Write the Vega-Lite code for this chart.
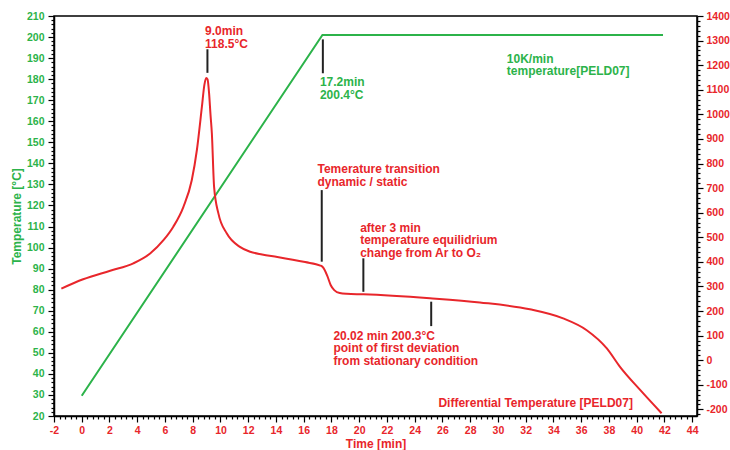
{
  "$schema": "https://vega.github.io/schema/vega-lite/v6.json",
  "width": 643,
  "height": 400,
  "autosize": "none",
  "padding": {"left": 54, "top": 16, "right": 33, "bottom": 34},
  "background": "white",
  "config": {
    "view": {"stroke": "black", "strokeWidth": 1.5},
    "font": "Liberation Sans",
    "axis": {
      "labelFont": "Liberation Sans",
      "labelFontWeight": "bold",
      "labelFontSize": 10.5,
      "titleFont": "Liberation Sans",
      "titleFontWeight": "bold",
      "titleFontSize": 12,
      "domainColor": "black",
      "domainWidth": 1.5,
      "tickColor": "black",
      "tickWidth": 1.2,
      "grid": false,
      "labelOverlap": false,
      "labelBound": false,
      "labelFlush": false
    }
  },
  "datasets": {
    "green": [
      {"t": 0, "v": 29.6},
      {"t": 17.35, "v": 201.0},
      {"t": 41.9, "v": 201.0}
    ],
    "red": [
      {"t": -1.47, "v": 291},
      {"t": 0.1, "v": 329},
      {"t": 2.05, "v": 364},
      {"t": 3.72, "v": 394},
      {"t": 4.93, "v": 434},
      {"t": 5.89, "v": 488},
      {"t": 6.6, "v": 543},
      {"t": 7.33, "v": 624},
      {"t": 7.93, "v": 732},
      {"t": 8.3, "v": 855},
      {"t": 8.66, "v": 1030},
      {"t": 8.84, "v": 1120},
      {"t": 8.97, "v": 1148},
      {"t": 9.07, "v": 1142},
      {"t": 9.18, "v": 1085},
      {"t": 9.28, "v": 1000},
      {"t": 9.38, "v": 922},
      {"t": 9.54, "v": 705},
      {"t": 9.85, "v": 597},
      {"t": 10.46, "v": 515},
      {"t": 11.4, "v": 461},
      {"t": 12.14, "v": 441},
      {"t": 13.0, "v": 430},
      {"t": 14.1, "v": 420},
      {"t": 16.1, "v": 399},
      {"t": 17.2, "v": 385},
      {"t": 17.35, "v": 380},
      {"t": 17.5, "v": 368},
      {"t": 17.7, "v": 343},
      {"t": 17.95, "v": 305},
      {"t": 18.2, "v": 285},
      {"t": 18.6, "v": 273},
      {"t": 19.1, "v": 270},
      {"t": 20.3, "v": 268},
      {"t": 25.1, "v": 252},
      {"t": 28.7, "v": 235},
      {"t": 32.3, "v": 207},
      {"t": 34.7, "v": 170},
      {"t": 36.4, "v": 122},
      {"t": 37.85, "v": 48},
      {"t": 38.8, "v": -27},
      {"t": 40.25, "v": -121},
      {"t": 41.8, "v": -216}
    ],
    "rules": [
      {"t": 9.06, "y1": 194.2, "y2": 183.0},
      {"t": 17.38, "y1": 198.9, "y2": 182.8},
      {"t": 17.3, "y1": 127.3, "y2": 93.3},
      {"t": 20.3, "y1": 94.9, "y2": 79.0},
      {"t": 25.19, "y1": 74.3, "y2": 62.7}
    ],
    "notes": [
      {"t": 8.89, "v": 205.1, "series": "differential", "label": "9.0min\n118.5°C"},
      {"t": 17.17, "v": 180.9, "series": "temperature", "label": "17.2min\n200.4°C"},
      {"t": 30.64, "v": 192.0, "series": "temperature", "label": "10K/min\ntemperature[PELD07]"},
      {"t": 16.99, "v": 139.7, "series": "differential", "label": "Temerature transition\ndynamic / static"},
      {"t": 20.07, "v": 111.7, "series": "differential", "label": "after 3 min\ntemperature equilidrium\nchange from Ar to O₂"},
      {"t": 18.14, "v": 60.5, "series": "differential", "label": "20.02 min 200.3°C\npoint of first deviation\nfrom stationary condition"},
      {"t": 25.71, "v": 28.4, "series": "differential", "label": "Differential Temperature [PELD07]"}
    ]
  },
  "layer": [
    {
      "layer": [
        {
          "data": {"name": "green"},
          "mark": {"type": "line", "color": "#2cb34a", "strokeWidth": 2},
          "encoding": {
            "x": {
              "field": "t",
              "type": "quantitative",
              "scale": {"domain": [-2, 44.35], "nice": false, "zero": false},
              "axis": {
                "title": "Time [min]",
                "titleColor": "#e8262b",
                "labelColor": "#e8262b",
                "titlePadding": 3,
                "labelPadding": 3,
                "tickCount": 500,
                "values": [-2,-1.6,-1.2,-0.8,-0.4,0,0.4,0.8,1.2,1.6,2,2.4,2.8,3.2,3.6,4,4.4,4.8,5.2,5.6,6,6.4,6.8,7.2,7.6,8,8.4,8.8,9.2,9.6,10,10.4,10.8,11.2,11.6,12,12.4,12.8,13.2,13.6,14,14.4,14.8,15.2,15.6,16,16.4,16.8,17.2,17.6,18,18.4,18.8,19.2,19.6,20,20.4,20.8,21.2,21.6,22,22.4,22.8,23.2,23.6,24,24.4,24.8,25.2,25.6,26,26.4,26.8,27.2,27.6,28,28.4,28.8,29.2,29.6,30,30.4,30.8,31.2,31.6,32,32.4,32.8,33.2,33.6,34,34.4,34.8,35.2,35.6,36,36.4,36.8,37.2,37.6,38,38.4,38.8,39.2,39.6,40,40.4,40.8,41.2,41.6,42,42.4,42.8,43.2,43.6,44],
                "labelExpr": "abs(datum.value/2 - round(datum.value/2)) < 0.001 ? ('' + round(datum.value)) : ''",
                "tickSize": {"condition": {"test": "abs(datum.value/2 - round(datum.value/2)) < 0.001", "value": 6}, "value": 3}
              }
            },
            "y": {
              "field": "v",
              "type": "quantitative",
              "scale": {"domain": [20, 210], "nice": false, "zero": false},
              "axis": {
                "orient": "left",
                "title": "Temperature [°C]",
                "titleColor": "#2cb34a",
                "labelColor": "#2cb34a",
                "titlePadding": 3,
                "labelPadding": 4,
                "tickCount": 500,
                "values": [20,22,24,26,28,30,32,34,36,38,40,42,44,46,48,50,52,54,56,58,60,62,64,66,68,70,72,74,76,78,80,82,84,86,88,90,92,94,96,98,100,102,104,106,108,110,112,114,116,118,120,122,124,126,128,130,132,134,136,138,140,142,144,146,148,150,152,154,156,158,160,162,164,166,168,170,172,174,176,178,180,182,184,186,188,190,192,194,196,198,200,202,204,206,208,210],
                "labelExpr": "datum.value % 10 === 0 ? ('' + round(datum.value)) : ''",
                "tickSize": {"condition": {"test": "datum.value % 10 === 0", "value": 6}, "value": 3}
              }
            }
          }
        },
        {
          "data": {"name": "rules"},
          "mark": {"type": "rule", "color": "#222222", "strokeWidth": 2},
          "encoding": {
            "x": {"field": "t", "type": "quantitative", "scale": {"domain": [-2, 44.35], "nice": false, "zero": false}},
            "y": {"field": "y1", "type": "quantitative", "scale": {"domain": [20, 210], "nice": false, "zero": false}},
            "y2": {"field": "y2"}
          }
        },
        {
          "data": {"name": "notes"},
          "mark": {"type": "text", "align": "left", "baseline": "top", "fontSize": 12, "fontWeight": "bold", "font": "Liberation Sans", "lineBreak": "\n", "lineHeight": 12.5},
          "encoding": {
            "x": {"field": "t", "type": "quantitative", "scale": {"domain": [-2, 44.35], "nice": false, "zero": false}},
            "y": {"field": "v", "type": "quantitative", "scale": {"domain": [20, 210], "nice": false, "zero": false}},
            "text": {"field": "label"},
            "color": {"field": "series", "type": "nominal", "scale": {"domain": ["temperature", "differential"], "range": ["#2cb34a", "#e8262b"]}, "legend": null}
          }
        }
      ]
    },
    {
      "data": {"name": "red"},
      "mark": {"type": "line", "color": "#e8262b", "strokeWidth": 2, "interpolate": "monotone"},
      "encoding": {
        "x": {"field": "t", "type": "quantitative", "scale": {"domain": [-2, 44.35], "nice": false, "zero": false}},
        "y": {
          "field": "v",
          "type": "quantitative",
          "scale": {"domain": [-227, 1400], "nice": false, "zero": false},
          "axis": {
            "orient": "right",
            "title": null,
            "labelColor": "#e8262b",
            "labelPadding": 3,
            "tickCount": 500,
            "values": [-220,-200,-180,-160,-140,-120,-100,-80,-60,-40,-20,0,20,40,60,80,100,120,140,160,180,200,220,240,260,280,300,320,340,360,380,400,420,440,460,480,500,520,540,560,580,600,620,640,660,680,700,720,740,760,780,800,820,840,860,880,900,920,940,960,980,1000,1020,1040,1060,1080,1100,1120,1140,1160,1180,1200,1220,1240,1260,1280,1300,1320,1340,1360,1380,1400],
            "labelExpr": "datum.value % 100 === 0 ? ('' + datum.value) : ''",
            "tickSize": {"condition": {"test": "datum.value % 100 === 0", "value": 6}, "value": 3}
          }
        }
      }
    }
  ],
  "resolve": {"scale": {"y": "independent"}}
}
